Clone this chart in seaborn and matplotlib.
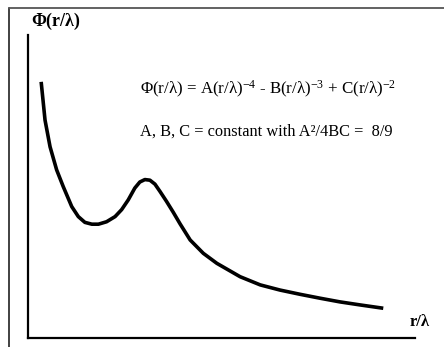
import matplotlib
matplotlib.use("Agg")
import matplotlib.pyplot as plt
import seaborn as sns
from matplotlib.lines import Line2D

# Curve (r/lambda in arbitrary units, Phi in arbitrary units)
r_lambda = [0.34, 0.44, 0.57, 0.74, 0.91, 1.13, 1.30, 1.47, 1.65, 1.82,
            2.03, 2.25, 2.42, 2.59, 2.76, 2.89, 3.02, 3.15, 3.28, 3.41,
            3.58, 3.75, 3.93, 4.19, 4.53, 4.88, 5.18, 5.48, 6.00, 6.51,
            7.03, 7.55, 8.06, 8.58, 9.18]
phi = [8.44, 7.18, 6.30, 5.54, 4.99, 4.33, 4.00, 3.81, 3.75, 3.75,
       3.83, 4.00, 4.23, 4.55, 4.94, 5.14, 5.22, 5.20, 5.07, 4.83,
       4.50, 4.15, 3.76, 3.23, 2.79, 2.46, 2.24, 2.02, 1.75, 1.58,
       1.44, 1.31, 1.19, 1.09, 0.98]

y_label = "Φ(r/λ)"
x_label = "r/λ"
formula = "Φ(r/λ) = A(r/λ)$^{-4}$ - B(r/λ)$^{-3}$ + C(r/λ)$^{-2}$"
note = "A, B, C = constant with A²/4BC =  8/9"

sns.set_theme(style="white")
plt.rcParams["font.family"] = ["Liberation Serif", "DejaVu Serif"]
plt.rcParams["mathtext.fontset"] = "custom"
plt.rcParams["mathtext.rm"] = "Liberation Serif"
plt.rcParams["mathtext.it"] = "Liberation Serif:italic"
plt.rcParams["mathtext.bf"] = "Liberation Serif:bold"
plt.rcParams["mathtext.default"] = "regular"
plt.rcParams["text.color"] = "black"

W, H = 444, 347
fig = plt.figure(figsize=(W / 100, H / 100), dpi=100)
fig.patch.set_facecolor("white")

left_px, right_px, top_px, bottom_px = 28, 415, 34.5, 338
ax = fig.add_axes([left_px / W, 1 - bottom_px / H,
                   (right_px - left_px) / W, (bottom_px - top_px) / H])
ax.set_facecolor("none")

sns.lineplot(x=r_lambda, y=phi, sort=False, color="black", linewidth=2.6,
             ax=ax, estimator=None, solid_joinstyle="round",
             solid_capstyle="butt")
ax.set_xlim(0, 10)
ax.set_ylim(0, 10)
ax.set_xticks([])
ax.set_yticks([])
for s in ["top", "right"]:
    ax.spines[s].set_visible(False)
for s in ["left", "bottom"]:
    ax.spines[s].set_color("black")
    ax.spines[s].set_linewidth(1.6)
ax.set_xlabel("")
ax.set_ylabel("")

# outer frame (left and top edges)
fig.add_artist(Line2D([9 / W, 9 / W], [0, 1 - 7.5 / H], transform=fig.transFigure,
                      color="#333333", lw=1.3))
fig.add_artist(Line2D([9 / W, 1], [1 - 7.5 / H, 1 - 7.5 / H], transform=fig.transFigure,
                      color="#555555", lw=1.3))

fig.text(31 / W, 1 - 21 / H, y_label, fontsize=13, fontweight="bold",
         ha="left", va="center", color="black")
fig.text(420 / W, 1 - 322 / H, x_label, fontsize=12, fontweight="bold",
         ha="center", va="center", color="black")
fig.text(140 / W, 1 - 89 / H, formula, fontsize=12.2, ha="left", va="center",
         color="black")
fig.text(140 / W, 1 - 132 / H, note, fontsize=11.8, ha="left", va="center",
         color="black")

fig.savefig("out.png", dpi=100, facecolor="white")
